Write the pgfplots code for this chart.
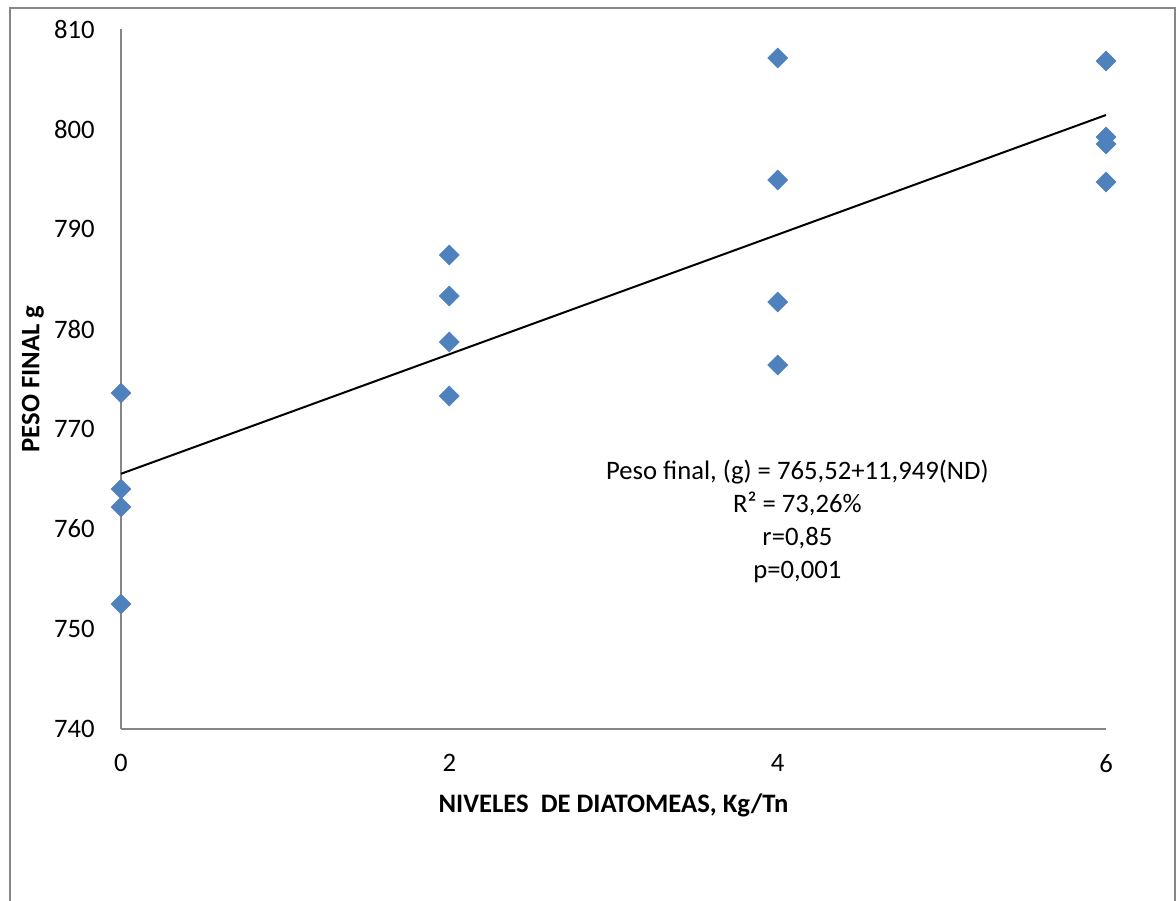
\documentclass[border=0pt]{standalone}
\usepackage{pgfplots}
\pgfplotsset{compat=1.18}
\usepackage{fontspec}
\setmainfont{Carlito}
\definecolor{mkblue}{HTML}{4F81BD}
\definecolor{axgray}{HTML}{868686}
\begin{document}
\begin{tikzpicture}[x=1pt,y=1pt]
\useasboundingbox (-90.75pt,-128.25pt) rectangle (791.25pt,546.75pt);
\begin{axis}[
  at={(0pt,0pt)}, anchor=south west,
  scale only axis, width=738.75pt, height=525pt,
  xmin=0, xmax=6, ymin=740, ymax=810,
  xtick={0,2,4,6}, ytick={740,750,...,810},
  axis x line*=bottom, axis y line*=left,
  axis line style={axgray, line width=1.1pt, -},
  major tick length=0pt,
  font=\fontsize{20}{24}\selectfont,
  /pgf/number format/assume math mode=true,
  yticklabel style={anchor=east, inner sep=0pt, xshift=-19.5pt},
  xticklabel style={anchor=north, inner sep=0pt, yshift=-19pt},
  clip=false,
]
\addplot[only marks, mark=square*, mark size=5.3pt, mark options={rotate=45, fill=mkblue, draw=mkblue}] coordinates {
 (0,773.6) (0,764.0) (0,762.2) (0,752.5)
 (2,787.4) (2,783.3) (2,778.7) (2,773.3)
 (4,807.1) (4,794.9) (4,782.7) (4,776.4)
 (6,806.8) (6,799.2) (6,798.5) (6,794.7)
};
\addplot[black, line width=1.5pt] coordinates {(0,765.52) (6,801.4)};
\node[align=center, font=\fontsize{20}{24.75}\selectfont] at (axis cs:4.12,760.75)
 {Peso final, (g) = 765,52+11,949(ND)\\R² = 73,26\%\\r=0,85\\p=0,001};
\node[font=\fontsize{20}{24}\selectfont\bfseries] at ([yshift=-57pt]rel axis cs:0.5,0) {NIVELES\ \ DE DIATOMEAS, Kg/Tn};
\node[font=\fontsize{20}{24}\selectfont\bfseries, rotate=90] at ([xshift=-66pt]rel axis cs:0,0.5) {PESO FINAL g};
\end{axis}
\draw[axgray, line width=1pt] (-83.25pt,-160pt) -- (-83.25pt,540.75pt) -- (790.5pt,540.75pt) -- (790.5pt,-160pt);
\end{tikzpicture}
\end{document}
